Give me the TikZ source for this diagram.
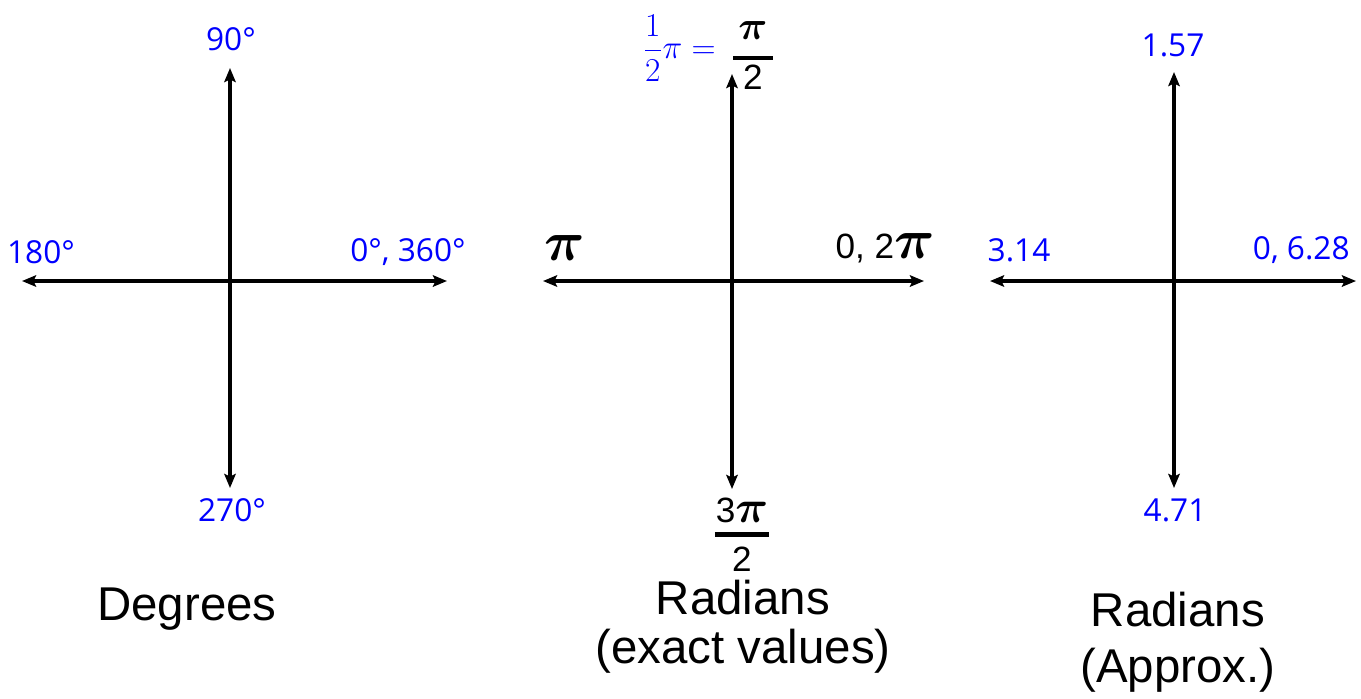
\RequirePackage{fix-cm}
\documentclass[tikz,border=0pt]{standalone}
\usepackage{amsmath}
\usepackage{fontspec}
\setmainfont{Liberation Sans}
\newfontfamily\lblfont{Open Sans}
\usetikzlibrary{arrows.meta}
\newcommand{\bpi}[1]{{\fontsize{#1}{#1}\selectfont$\boldsymbol{\pi}$}}
\begin{document}
\begin{tikzpicture}[
    x=0.02cm,y=-0.02cm,
    axis/.style={line width=2.3pt,{Stealth[length=8pt,width=6.5pt,inset=1.5pt]}-{Stealth[length=8pt,width=6.5pt,inset=1.5pt]}},
    deg/.style={text=blue,inner sep=0pt,font=\lblfont\fontsize{18}{20}\selectfont},
    val/.style={inner sep=0pt,font=\fontsize{20}{24}\selectfont},
    frac/.style={val,align=center,anchor=south},
    captext/.style={inner sep=0pt,align=center,font=\fontsize{27}{28}\selectfont}
]
\useasboundingbox (0,0) rectangle (1361,698);
% degrees
\coordinate (dN) at (230,68);
\coordinate (dS) at (230,488);
\coordinate (dW) at (22,281);
\coordinate (dE) at (447,281);
\draw[axis] (dS) -- (dN);
\draw[axis] (dW) -- (dE);
\node[deg] (d90) at (231,39) {90°};
\node[deg] (d180) at (41,252) {180°};
\node[deg,anchor=east] (d0) at (466,252) {0°, 360°};
\node[deg] (d270) at (232,510) {270°};
\node[captext] (degcap) at (187,609) {Degrees};
% radians, exact
\coordinate (eN) at (732,74);
\coordinate (eS) at (732,489);
\coordinate (eW) at (543,281);
\coordinate (eE) at (924,281);
\draw[axis] (eS) -- (eN);
\draw[axis] (eW) -- (eE);
\node[frac] (ehalf) at (753,90) {\bpi{23}\\[-12.7pt]\rule{22.5pt}{2.3pt}\\[-7pt]2};
\node[text=blue,anchor=east,inner sep=0pt,font=\fontsize{19}{22}\selectfont] (ehand) at (716,48) {$\displaystyle\frac{1}{2}\pi =$};
\node[val] (epi) at (565,248) {\bpi{32}};
\node[val,anchor=east] (e0) at (935,248) {0, 2\bpi{32}};
\node[frac] (e3) at (742,572) {3\bpi{26}\\[-16pt]\rule{31pt}{2.3pt}\\[-4pt]2};
\node[captext] (ecap) at (743,627) {Radians\\(exact values)};
% radians, approx
\coordinate (aN) at (1174,72);
\coordinate (aS) at (1174,488);
\coordinate (aW) at (990,281);
\coordinate (aE) at (1356,281);
\draw[axis] (aS) -- (aN);
\draw[axis] (aW) -- (aE);
\node[deg] (a157) at (1173,45) {1.57};
\node[deg] (a314) at (1019,250) {3.14};
\node[deg,anchor=east] (a0) at (1350,250) {0, 6.28};
\node[deg] (a471) at (1175,510) {4.71};
\node[captext,font=\fontsize{27}{32}\selectfont] (acap) at (1178,642) {Radians\\(Approx.)};
\end{tikzpicture}
\end{document}
